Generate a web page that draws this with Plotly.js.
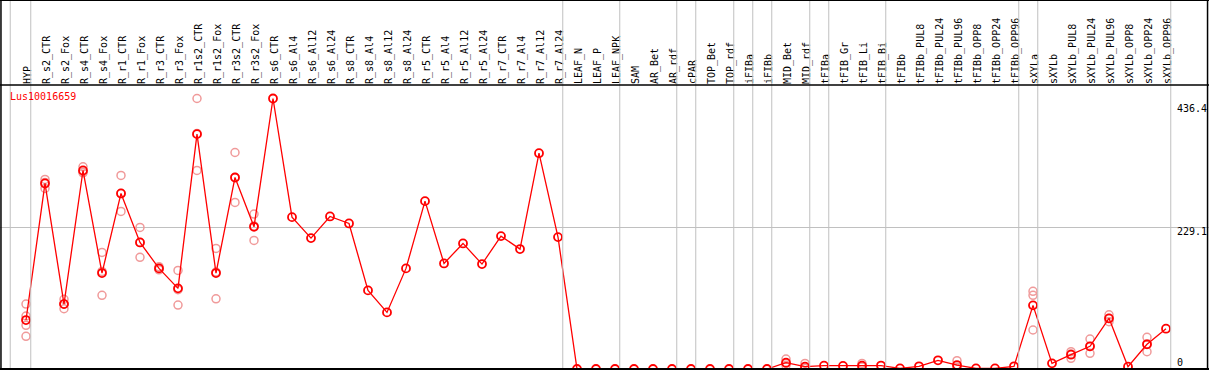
<!DOCTYPE html>
<html>
<head>
<meta charset="utf-8">
<script src="https://cdn.plot.ly/plotly-3.0.1.min.js"></script>
<style>html,body{margin:0;padding:0;background:#fff;}#chart{width:1209px;height:370px;}</style>
</head>
<body>
<div id="chart"></div>
<script>
var geneName = "Lus10016659";
var categories = ["HYP","R_s2_CTR","R_s2_Fox","R_s4_CTR","R_s4_Fox","R_r1_CTR","R_r1_Fox","R_r3_CTR","R_r3_Fox","R_r1s2_CTR","R_r1s2_Fox","R_r3s2_CTR","R_r3s2_Fox","R_s6_CTR","R_s6_Al4","R_s6_Al12","R_s6_Al24","R_s8_CTR","R_s8_Al4","R_s8_Al12","R_s8_Al24","R_r5_CTR","R_r5_Al4","R_r5_Al12","R_r5_Al24","R_r7_CTR","R_r7_Al4","R_r7_Al12","R_r7_Al24","LEAF_N","LEAF_P","LEAF_NPK","SAM","AR_Bet","AR_rdf","cPAR","TOP_Bet","TOP_rdf","iFIBa","iFIBb","MID_Bet","MID_rdf","tFIBa","tFIB_Gr","tFIB_Li","tFIB_Bi","tFIBb","tFIBb_PUL8","tFIBb_PUL24","tFIBb_PUL96","tFIBb_OPP8","tFIBb_OPP24","tFIBb_OPP96","sXYLa","sXYLb","sXYLb_PUL8","sXYLb_PUL24","sXYLb_PUL96","sXYLb_OPP8","sXYLb_OPP24","sXYLb_OPP96"];
var meanValues = [79.0,299.4,104.8,320.3,154.8,283.2,204.2,162.3,130.1,378.9,154.8,309.0,229.4,436.4,245.0,211.2,246.1,234.8,126.8,91.3,162.3,270.8,170.3,202.6,169.3,214.4,193.5,348.2,212.8,0,0,0,0,0,0,0,0,0,0,0,10.2,3.8,5.4,5.0,5.4,5.6,1.0,4.3,14.0,6.4,1.0,1.0,4.3,102.7,9.1,23.1,36.6,81.7,3.8,39.8,65.0];
var replicateValues = [
  [104.8,85.4,70.4,52.7],[305.8,291.3,301.0],[112.4,97.2,104.8],[326.2,316.5,318.0],[188.1,118.8,157.5],
  [312.3,254.2,283.1],[228.4,180.1,204.1],[165.0,160.0,162.0],[159.1,103.2,128.0],[436.4,320.3,380.0],
  [194.6,113.3,156.5],[349.3,268.7,309.0],[249.9,207.5,230.8],[],[],[],[],[],[],[],[],[],[],[],[],[],[],[],[],
  [],[],[],[],[],[],[],[],[],[],[],
  [16.0,9.0,5.6],[9.0,1.2,1.2],[],[],[9.0,3.6,3.6],[],[],[],[],[13.4,3.0,3.0],[],[],[],
  [125.3,118.8,62.9],[],[27.9,17.2,24.2],[48.4,25.3,36.1],[87.5,76.3,81.3],[],[51.1,27.9,40.4],[]
];
var groupEnds = [0,28,31,34,35,37,38,39,41,42,45,52,53,60];
var yTickValues = [436.4,229.1,0];
var yTickLabels = ["436.4","229.1","0"];

var idx = categories.map(function(_, i){ return i; });
var repX = [], repY = [];
replicateValues.forEach(function(arr, i){ arr.forEach(function(v){ repX.push(i); repY.push(v); }); });

var FONT = "DejaVu Sans Mono, monospace";
var traces = [
  {x: repX, y: repY, type: 'scatter', mode: 'markers', cliponaxis: true,
   marker: {symbol: 'circle-open', size: 8, color: '#f09a9a', line: {width: 1.5, color: '#f09a9a'}}, hoverinfo: 'skip'},
  {x: idx, y: meanValues, type: 'scatter', mode: 'lines+markers', cliponaxis: true,
   line: {color: '#ff0000', width: 1.3},
   marker: {symbol: 'circle-open', size: 8, color: '#ff0000', line: {width: 1.8, color: '#ff0000'}}}
];

var shapes = [];
shapes.push({type: 'line', xref: 'x', yref: 'paper', x0: -0.83, x1: -0.83, y0: 0, y1: 1.3, line: {color: '#c0c0c0', width: 1}});
groupEnds.forEach(function(g){
  shapes.push({type: 'line', xref: 'x', yref: 'paper', x0: g + 0.25, x1: g + 0.25, y0: 0, y1: 1.3, line: {color: '#c0c0c0', width: 1}});
});
shapes.push({type: 'line', xref: 'paper', yref: 'paper', x0: 0, x1: 1, y0: 1, y1: 1, line: {color: '#000', width: 1.5}});
shapes.push({type: 'line', xref: 'paper', yref: 'paper', x0: 0, x1: 1, y0: 1.2993, y1: 1.2993, line: {color: '#000', width: 2}});
shapes.push({type: 'line', xref: 'paper', yref: 'paper', x0: 0.0008, x1: 0.0008, y0: 0, y1: 1.3, line: {color: '#000', width: 1.5}});
shapes.push({type: 'line', xref: 'paper', yref: 'paper', x0: 0.9988, x1: 0.9988, y0: -0.01, y1: 1.3, line: {color: '#000', width: 1.5}});
shapes.push({type: 'line', xref: 'paper', yref: 'paper', x0: 0, x1: 1, y0: 0.0, y1: 0.0, line: {color: '#000', width: 2}});

var annotations = [
  {text: geneName, xref: 'paper', yref: 'paper', x: 8/1209, y: 0.958, xanchor: 'left', yanchor: 'middle', showarrow: false,
   font: {family: FONT, size: 10, color: '#ff0000'}}
];
var yShifts = [-10, -4, 7];
yTickValues.forEach(function(v, i){
  annotations.push({text: yTickLabels[i], xref: 'paper', yref: 'y', x: 1175/1209, y: v, xanchor: 'left', yanchor: 'middle',
    yshift: yShifts[i], showarrow: false, font: {family: FONT, size: 10, color: '#000'}});
});

var layout = {
  width: 1209, height: 370,
  margin: {l: 0, r: 0, t: 85, b: 1, pad: 0},
  paper_bgcolor: '#fff', plot_bgcolor: '#fff',
  showlegend: false,
  xaxis: {range: [-26/19, (1209-26)/19], side: 'top', tickmode: 'array', tickvals: idx, ticktext: categories,
          tickangle: -90, ticks: '', ticklabelshift: 2, showgrid: false, zeroline: false, showline: false,
          tickfont: {family: FONT, size: 10, color: '#000'}, fixedrange: true},
  yaxis: {range: [0, 458.2], tickmode: 'array', tickvals: [229.1], showticklabels: false, ticks: '',
          showgrid: true, gridcolor: '#c0c0c0', gridwidth: 1, zeroline: false, showline: false, fixedrange: true},
  shapes: shapes,
  annotations: annotations
};
Plotly.newPlot('chart', traces, layout, {displayModeBar: false, staticPlot: true});
</script>
</body>
</html>
